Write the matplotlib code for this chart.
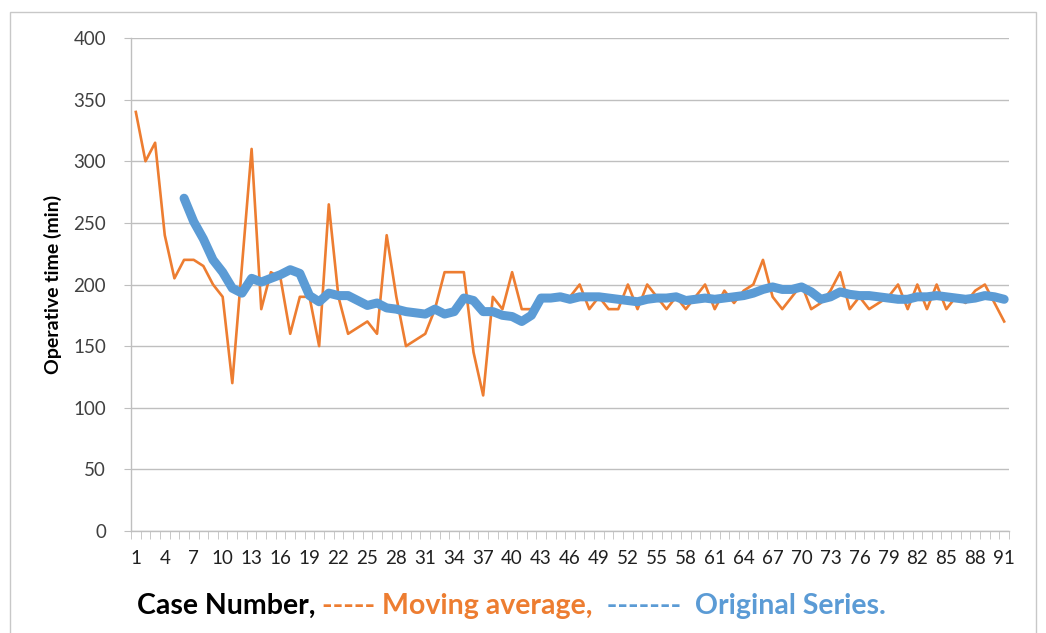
import numpy as np
import matplotlib.pyplot as plt
from matplotlib.patches import Rectangle

plt.rcParams['font.family'] = ['Lato', 'DejaVu Sans']

# case numbers 1..91
cases = list(range(1, 92))

# operative time per case (orange line)
op_time = [340, 300, 315, 240, 205, 220, 220, 215, 200, 190,
           120, 215, 310, 180, 210, 205, 160, 190, 190, 150,
           265, 190, 160, 165, 170, 160, 240, 190, 150, 155,
           160, 180, 210, 210, 210, 145, 110, 190, 180, 210,
           180, 180, 190, 190, 190, 190, 200, 180, 190, 180,
           180, 200, 180, 200, 190, 180, 190, 180, 190, 200,
           180, 195, 185, 195, 200, 220, 190, 180, 190, 200,
           180, 185, 195, 210, 180, 190, 180, 185, 190, 200,
           180, 200, 180, 200, 180, 190, 185, 195, 200, 185,
           170]

# smoothed line (blue), starts at case 6
ma_cases = list(range(6, 92))
ma_time = [270, 251, 237, 220, 210, 197, 193, 205, 202, 205,
           208, 212, 209, 191, 186, 193, 191, 191, 187, 183,
           185, 181, 180, 178, 177, 176, 180, 176, 178, 189,
           187, 178, 178, 175, 174, 170, 175, 189, 189, 190,
           188, 190, 190, 190, 189, 188, 187, 186, 188, 189,
           189, 190, 187, 188, 189, 188, 189, 190, 191, 193,
           196, 198, 196, 196, 198, 194, 188, 190, 194, 192,
           191, 191, 190, 189, 188, 188, 190, 190, 191, 190,
           189, 188, 189, 191, 190, 188]

orange = '#ED7D31'
blue = '#5B9BD5'
grid_c = '#BFBFBF'

fig = plt.figure(figsize=(10.46, 6.33), dpi=100)
ax = fig.add_axes([131 / 1046, 1 - 531 / 633, (1009 - 131) / 1046, 493 / 633])

ax.plot(cases, op_time, color=orange, lw=1.9, zorder=3)
ax.plot(ma_cases, ma_time, color=blue, lw=6.5, solid_capstyle='round',
        solid_joinstyle='round', zorder=4)

ax.set_xlim(0.5, 91.5)
ax.set_ylim(0, 400)
ax.set_yticks(np.arange(0, 401, 50))
ax.set_xticks(cases[::3])
ax.set_xticks(np.arange(0.5, 92, 1), minor=True)
ax.yaxis.grid(True, color=grid_c, lw=1)
ax.set_axisbelow(True)

for s in ['top', 'right']:
    ax.spines[s].set_visible(False)
for s in ['left', 'bottom']:
    ax.spines[s].set_color(grid_c)
    ax.spines[s].set_linewidth(1)

ax.tick_params(axis='y', length=5, color=grid_c, pad=13, labelsize=13.5, labelcolor='#404040')
ax.tick_params(axis='x', which='major', length=0, pad=14, labelsize=13.5, labelcolor='#202020')
ax.tick_params(axis='x', which='minor', length=6, color=grid_c)

ax.set_ylabel('Operative time (min)', fontsize=14, fontweight='bold', labelpad=8)

# caption below the chart
fs = 20.5
t1 = fig.text(137 / 1046, 1 - 606 / 633, 'Case Number, ', fontsize=fs,
              fontweight='bold', color='black', va='center')
t2 = ax.annotate('----- Moving average,', xy=(1, 0.5), xycoords=t1,
                 va='center', fontsize=fs, fontweight='bold', color=orange)
t3 = ax.annotate('  ------- ', xy=(1, 0.5), xycoords=t2,
                 va='center', fontsize=fs, fontweight='bold', color=blue)
ax.annotate(' Original Series.', xy=(1, 0.5), xycoords=t3,
            va='center', fontsize=fs, fontweight='bold', color=blue)

# light frame around the chart area
fig.patches.append(Rectangle((10 / 1046, -0.01), 1026 / 1046, 1 - 12 / 633 + 0.01,
                             transform=fig.transFigure, fill=False,
                             edgecolor='#C8C8C8', lw=1))

fig.savefig('out.png', dpi=100)
